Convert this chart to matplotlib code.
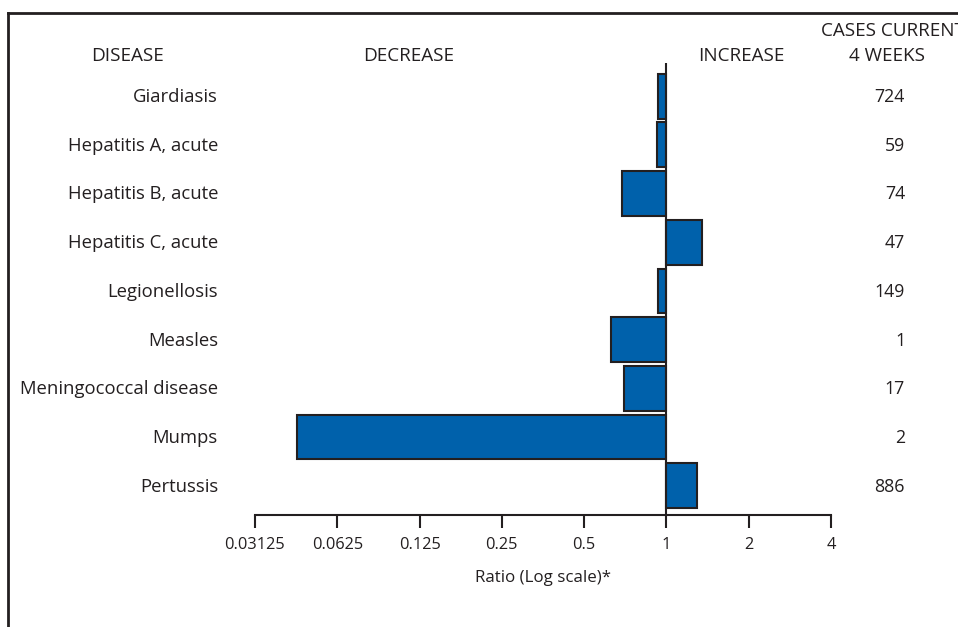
import numpy as np
import matplotlib.pyplot as plt
from matplotlib.lines import Line2D

plt.rcParams['font.family'] = ['Open Sans', 'DejaVu Sans']

diseases = ["Giardiasis", "Hepatitis A, acute", "Hepatitis B, acute",
            "Hepatitis C, acute", "Legionellosis", "Measles",
            "Meningococcal disease", "Mumps", "Pertussis"]
ratios = [0.93, 0.92, 0.69, 1.35, 0.935, 0.625, 0.70, 0.0446, 1.29]
cases = [724, 59, 74, 47, 149, 1, 17, 2, 886]
tick_vals = [0.03125, 0.0625, 0.125, 0.25, 0.5, 1, 2, 4]
tick_labels = ["0.03125", "0.0625", "0.125", "0.25", "0.5", "1", "2", "4"]

W, H = 958, 627
ink = '#231f20'
fig = plt.figure(figsize=(W / 100, H / 100), dpi=100)
ax = fig.add_axes([255 / W, 1 - 515 / H, (831 - 255) / W, (515 - 63) / H])

r = np.array(ratios)
y = np.arange(len(diseases))
left = np.minimum(r, 1)
width = np.abs(r - 1)
ax.barh(y, width, left=left, height=0.92, color='#0061ab',
        edgecolor=ink, linewidth=1.5, zorder=2)
ax.axvline(1, color=ink, linewidth=1.5, zorder=3)

ax.set_xscale('log', base=2)
ax.set_xlim(0.03125, 4)
ax.set_ylim(8.6, -0.68)
ax.set_xticks(tick_vals)
ax.set_xticklabels(tick_labels)
ax.minorticks_off()
ax.set_yticks([])
for s in ['left', 'top', 'right']:
    ax.spines[s].set_visible(False)
ax.spines['bottom'].set_linewidth(1.5)
ax.spines['bottom'].set_color(ink)
ax.tick_params(axis='x', length=9, width=1.5, color=ink,
               labelsize=11.8, pad=7, labelcolor=ink)
ax.set_xlabel("Ratio (Log scale)*", fontsize=12.2, color=ink, labelpad=12)

for i, (d, c) in enumerate(zip(diseases, cases)):
    fy = 1 - (97 + i * 48.7) / H
    fig.text(218 / W, fy, d, ha='right', va='center', fontsize=13.3, color=ink)
    fig.text(905 / W, fy, str(c), ha='right', va='center', fontsize=12.8, color=ink)

hdr = dict(va='center', fontsize=13.6, color=ink)
fig.text(128 / W, 1 - 56 / H, "DISEASE", ha='center', **hdr)
fig.text(409 / W, 1 - 56 / H, "DECREASE", ha='center', **hdr)
fig.text(741 / W, 1 - 56 / H, "INCREASE", ha='center', **hdr)
fig.text(821 / W, 1 - 31 / H, "CASES CURRENT", ha='left', **hdr)
fig.text(887 / W, 1 - 56 / H, "4 WEEKS", ha='center', **hdr)

# outer frame (top and left edges)
fig.add_artist(Line2D([8 / W, 1], [1 - 13 / H, 1 - 13 / H], color=ink, lw=2))
fig.add_artist(Line2D([8 / W, 8 / W], [0, 1 - 13 / H], color=ink, lw=2))

fig.savefig("out.png", dpi=100)
